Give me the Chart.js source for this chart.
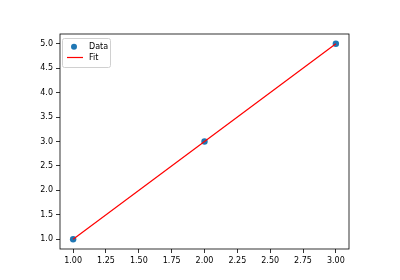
<!DOCTYPE html>
<html>
<head>
<meta charset="utf-8">
<script src="https://cdn.jsdelivr.net/npm/chart.js@4/dist/chart.umd.min.js"></script>
<style>
  html, body { margin: 0; padding: 0; background: #fff; }
  #chart { display: block; }
</style>
</head>
<body>
<canvas id="chart" width="400" height="280"></canvas>
<script>
// --- Данные ---
const dataX = [1, 2, 3];
const dataY = [1, 3, 5];
const fitX = [1, 3];
const fitY = [1, 5];
const xTicks = [1.00, 1.25, 1.50, 1.75, 2.00, 2.25, 2.50, 2.75, 3.00];
const yTicks = [1.0, 1.5, 2.0, 2.5, 3.0, 3.5, 4.0, 4.5, 5.0];

const FONT = 'DejaVu Sans';

// --- Рамка осей и легенда в стиле matplotlib ---
const framePlugin = {
    id: 'frame',
    afterDraw(chart) {
        const { ctx, chartArea: a } = chart;
        ctx.save();
        ctx.strokeStyle = '#000';
        ctx.lineWidth = 0.8;
        ctx.strokeRect(a.left, a.top, a.right - a.left, a.bottom - a.top);

        // легенда
        const bx = a.left + 2, by = a.top + 4, bw = 48, bh = 29;
        ctx.fillStyle = 'rgba(255,255,255,0.8)';
        ctx.strokeStyle = '#d0d0d0';
        ctx.lineWidth = 1;
        ctx.beginPath();
        ctx.roundRect(bx + 0.5, by + 0.5, bw, bh, 2);
        ctx.fill();
        ctx.stroke();

        const ds = chart.data.datasets;
        ctx.font = '8px ' + FONT;
        ctx.textBaseline = 'middle';
        // Data
        ctx.beginPath();
        ctx.arc(bx + 12, by + 8.7, 3, 0, Math.PI * 2);
        ctx.fillStyle = ds[0].backgroundColor;
        ctx.fill();
        ctx.fillStyle = '#000';
        ctx.fillText(ds[0].label, bx + 27, by + 8.7);
        // Fit
        ctx.beginPath();
        ctx.moveTo(bx + 5, by + 19.5);
        ctx.lineTo(bx + 21, by + 19.5);
        ctx.strokeStyle = ds[1].borderColor;
        ctx.lineWidth = 1.2;
        ctx.stroke();
        ctx.fillText(ds[1].label, bx + 27, by + 19.5);
        ctx.restore();
    }
};

const ctx = document.getElementById('chart').getContext('2d');
new Chart(ctx, {
    type: 'scatter',
    data: {
        datasets: [
            {
                label: 'Data',
                data: dataX.map((x, i) => ({ x: x, y: dataY[i] })),
                backgroundColor: '#1f77b4',
                borderColor: '#1f77b4',
                pointRadius: 3.2,
                pointBorderWidth: 0,
                order: 2
            },
            {
                label: 'Fit',
                type: 'line',
                data: fitX.map((x, i) => ({ x: x, y: fitY[i] })),
                borderColor: '#ff0000',
                backgroundColor: '#ff0000',
                borderWidth: 1.2,
                pointRadius: 0,
                fill: false,
                tension: 0,
                order: 1
            }
        ]
    },
    options: {
        responsive: false,
        animation: false,
        layout: { padding: { left: 0, right: 51, top: 34, bottom: 0 } },
        plugins: { legend: { display: false }, tooltip: { enabled: false } },
        scales: {
            x: {
                type: 'linear',
                min: 0.9,
                max: 3.1,
                afterBuildTicks: axis => { axis.ticks = xTicks.map(v => ({ value: v })); },
                afterFit: axis => { axis.height = 31; },
                ticks: {
                    color: '#000',
                    font: { family: FONT, size: 8 },
                    padding: 3,
                    maxRotation: 0,
                    autoSkip: false,
                    callback: v => Number(v).toFixed(2)
                },
                grid: { drawOnChartArea: false, drawTicks: true, tickLength: 4, color: '#000', lineWidth: 0.8 },
                border: { display: false }
            },
            y: {
                type: 'linear',
                min: 0.8,
                max: 5.2,
                afterBuildTicks: axis => { axis.ticks = yTicks.map(v => ({ value: v })); },
                afterFit: axis => { axis.width = 60; },
                ticks: {
                    color: '#000',
                    font: { family: FONT, size: 8 },
                    padding: 3,
                    autoSkip: false,
                    callback: v => Number(v).toFixed(1)
                },
                grid: { drawOnChartArea: false, drawTicks: true, tickLength: 4, color: '#000', lineWidth: 0.8 },
                border: { display: false }
            }
        }
    },
    plugins: [framePlugin]
});
</script>
</body>
</html>
